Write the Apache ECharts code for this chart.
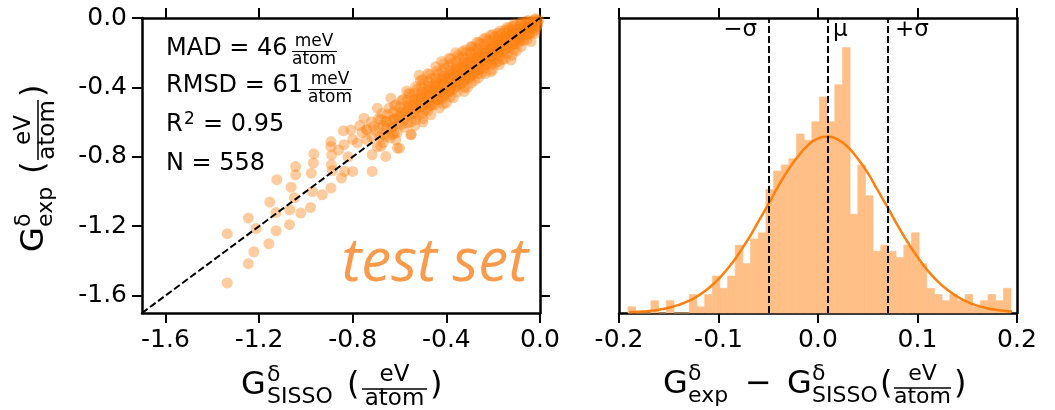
<!DOCTYPE html>
<html><head><meta charset="utf-8">
<script src="https://cdn.jsdelivr.net/npm/echarts@6/dist/echarts.min.js"></script>
<style>html,body{margin:0;padding:0;background:#fff}#c{width:1055px;height:410px}</style>
</head><body><div id="c"></div>
<script>
// ---------- data ----------
const ticksLeft = [-1.6, -1.2, -0.8, -0.4, 0.0];
const ticksRight = [-0.2, -0.1, 0.0, 0.1, 0.2];
const diagLine = [[-1.7, -1.7], [0, 0]];
const scatterPts = [
[-1.336,-1.527],[-1.336,-1.243],[-1.246,-1.153],[-1.246,-1.416],[-1.222,-1.347],[-1.213,-1.213],
[-1.158,-1.301],[-1.154,-1.061],[-1.124,-0.932],[-1.127,-1.226],[-1.128,-1.121],[-1.07,-1.191],
[-1.069,-1.105],[-1.063,-0.975],[-1.049,-1.036],[-1.044,-0.856],[-1.044,-0.904],[-1.022,-1.124],
[-0.98,-1.092],[-0.977,-0.894],[-0.972,-1.0],[-0.968,-0.836],[-0.966,-0.783],[-0.93,-1.019],
[-0.893,-0.98],[-0.893,-0.712],[-0.893,-0.74],[-0.89,-0.79],[-0.891,-0.846],[-0.887,-0.879],
[-0.848,-0.922],[-0.837,-0.73],[-0.835,-0.884],[-0.808,-0.645],[-0.8,-0.7],[-0.8,-0.884],
[-0.86,-0.76],[-0.82,-0.8],[-0.84,-0.65],
[-0.752,-0.577],[-0.74,-0.64],[-0.717,-0.788],[-0.717,-0.884],[-0.695,-0.741],[-0.68,-0.74],
[-0.659,-0.798],[-0.695,-0.52],[-0.637,-0.462],[-0.616,-0.702],[-0.63,-0.67],[-0.76,-0.66],
[-0.77,-0.62],[-0.78,-0.72],[-0.74,-0.7],[-0.7,-0.65],[-0.72,-0.6],[-0.69,-0.58],[-0.67,-0.62],
[-0.665,-0.67],[-0.675,-0.55],[-0.67,-0.72],[-0.655,-0.6],[-0.64,-0.59],[-0.635,-0.64],[-0.645,-0.52],
[-0.64,-0.69],[-0.62,-0.58],[-0.61,-0.56],[-0.605,-0.61],[-0.615,-0.5],[-0.61,-0.66],[-0.6,-0.75],
[-0.609,-0.75],[-0.552,-0.673],
[-0.59,-0.55],[-0.58,-0.53],[-0.575,-0.58],[-0.585,-0.47],[-0.58,-0.63],[-0.57,-0.42],
[-0.56,-0.52],[-0.55,-0.5],[-0.545,-0.55],[-0.555,-0.44],[-0.55,-0.6],[-0.54,-0.47],[-0.55,-0.67],[-0.535,-0.62],
[-0.53,-0.49],[-0.52,-0.47],[-0.515,-0.52],[-0.525,-0.41],[-0.52,-0.56],[-0.51,-0.44],[-0.516,-0.33],[-0.5,-0.6],
[-0.5,-0.46],[-0.49,-0.44],[-0.485,-0.49],[-0.495,-0.38],[-0.49,-0.53],[-0.48,-0.41],[-0.5,-0.58],[-0.51,-0.36],[-0.47,-0.5],
[-0.47,-0.43],[-0.46,-0.41],[-0.455,-0.46],[-0.465,-0.35],[-0.46,-0.5],[-0.45,-0.38],[-0.466,-0.558],[-0.48,-0.32],[-0.44,-0.47],
[-0.44,-0.4],[-0.43,-0.38],[-0.425,-0.43],[-0.435,-0.32],[-0.43,-0.47],[-0.42,-0.35],[-0.43,-0.52],[-0.445,-0.28],[-0.41,-0.45],
[-0.41,-0.37],[-0.4,-0.35],[-0.395,-0.4],[-0.405,-0.29],[-0.4,-0.44],[-0.39,-0.32],[-0.4,-0.49],[-0.42,-0.25],[-0.385,-0.42],
[-0.38,-0.34],[-0.37,-0.32],[-0.365,-0.37],[-0.375,-0.26],[-0.37,-0.41],[-0.36,-0.29],[-0.37,-0.46],[-0.388,-0.232],[-0.355,-0.39],
[-0.35,-0.31],[-0.34,-0.29],[-0.335,-0.34],[-0.345,-0.23],[-0.34,-0.38],[-0.33,-0.26],[-0.324,-0.424],[-0.36,-0.2],[-0.325,-0.36],
[-0.32,-0.28],[-0.31,-0.26],[-0.305,-0.31],[-0.315,-0.2],[-0.31,-0.35],[-0.3,-0.23],[-0.31,-0.4],[-0.331,-0.194],[-0.295,-0.33],
[-0.29,-0.25],[-0.28,-0.23],[-0.275,-0.28],[-0.285,-0.18],[-0.28,-0.32],[-0.27,-0.2],[-0.28,-0.36],[-0.295,-0.165],[-0.265,-0.3],
[-0.26,-0.22],[-0.25,-0.2],[-0.245,-0.25],[-0.255,-0.15],[-0.25,-0.29],[-0.24,-0.18],[-0.25,-0.32],[-0.27,-0.14],[-0.235,-0.27],
[-0.23,-0.2],[-0.22,-0.18],[-0.215,-0.22],[-0.225,-0.13],[-0.22,-0.26],[-0.21,-0.16],[-0.21,-0.309],[-0.24,-0.12],[-0.205,-0.24],
[-0.2,-0.17],[-0.19,-0.15],[-0.185,-0.19],[-0.195,-0.11],[-0.19,-0.22],[-0.18,-0.13],[-0.19,-0.26],[-0.21,-0.1],[-0.175,-0.2],
[-0.174,-0.27],[-0.17,-0.14],[-0.16,-0.12],[-0.155,-0.16],[-0.165,-0.09],[-0.16,-0.2],[-0.15,-0.11],[-0.16,-0.24],[-0.181,-0.088],[-0.145,-0.18],
[-0.14,-0.12],[-0.13,-0.1],[-0.125,-0.14],[-0.135,-0.06],[-0.13,-0.17],[-0.12,-0.09],[-0.124,-0.242],[-0.15,-0.07],[-0.115,-0.15],
[-0.11,-0.09],[-0.1,-0.07],[-0.095,-0.12],[-0.105,-0.04],[-0.1,-0.15],[-0.09,-0.1],[-0.1,-0.19],[-0.12,-0.05],[-0.085,-0.13],
[-0.08,-0.03],[-0.07,-0.04],[-0.065,-0.08],[-0.075,-0.1],[-0.07,-0.06],[-0.07,-0.13],[-0.06,-0.02],[-0.055,-0.1],
[-0.05,-0.03],[-0.04,-0.02],[-0.035,-0.06],[-0.045,-0.09],[-0.04,-0.04],[-0.038,-0.136],[-0.03,-0.08],
[-0.025,-0.03],[-0.02,-0.01],[-0.015,-0.05],[-0.01,-0.02],[-0.01,-0.04],[-0.005,-0.01],[-0.02,-0.07],
[-0.021,-0.005],[-0.028,-0.02],[-0.024,-0.04],[-0.03,-0.06],[-0.022,-0.09],
[-0.051,-0.015],[-0.058,-0.035],[-0.054,-0.055],[-0.06,-0.075],[-0.052,-0.095],[-0.056,-0.125],
[-0.081,-0.025],[-0.088,-0.05],[-0.084,-0.07],[-0.09,-0.09],[-0.082,-0.11],[-0.086,-0.135],[-0.08,-0.165],
[-0.111,-0.035],[-0.118,-0.065],[-0.114,-0.09],[-0.12,-0.11],[-0.112,-0.135],[-0.116,-0.155],[-0.11,-0.185],[-0.119,-0.215],
[-0.141,-0.055],[-0.148,-0.085],[-0.144,-0.11],[-0.15,-0.135],[-0.142,-0.155],[-0.146,-0.18],[-0.14,-0.205],[-0.149,-0.235],
[-0.171,-0.075],[-0.178,-0.11],[-0.174,-0.135],[-0.18,-0.155],[-0.172,-0.175],[-0.176,-0.195],[-0.17,-0.22],[-0.179,-0.25],
[-0.201,-0.095],[-0.208,-0.13],[-0.204,-0.16],[-0.21,-0.18],[-0.202,-0.2],[-0.206,-0.22],[-0.2,-0.245],[-0.209,-0.27],[-0.203,-0.3],
[-0.231,-0.115],[-0.238,-0.155],[-0.234,-0.185],[-0.24,-0.205],[-0.232,-0.225],[-0.236,-0.245],[-0.23,-0.265],[-0.239,-0.295],[-0.233,-0.32],
[-0.261,-0.14],[-0.268,-0.175],[-0.264,-0.205],[-0.27,-0.23],[-0.262,-0.25],[-0.266,-0.27],[-0.26,-0.295],[-0.269,-0.32],[-0.263,-0.345],
[-0.291,-0.165],[-0.298,-0.2],[-0.294,-0.23],[-0.3,-0.255],[-0.292,-0.275],[-0.296,-0.295],[-0.29,-0.32],[-0.299,-0.345],[-0.293,-0.375],
[-0.321,-0.185],[-0.328,-0.225],[-0.324,-0.255],[-0.33,-0.28],[-0.322,-0.305],[-0.326,-0.325],[-0.32,-0.345],[-0.329,-0.37],[-0.323,-0.4],
[-0.351,-0.215],[-0.358,-0.25],[-0.354,-0.28],[-0.36,-0.305],[-0.352,-0.33],[-0.356,-0.35],[-0.35,-0.375],[-0.359,-0.4],[-0.353,-0.425],
[-0.381,-0.235],[-0.388,-0.275],[-0.384,-0.305],[-0.39,-0.335],[-0.382,-0.355],[-0.386,-0.375],[-0.38,-0.4],[-0.389,-0.425],[-0.383,-0.455],
[-0.411,-0.265],[-0.418,-0.305],[-0.414,-0.335],[-0.42,-0.36],[-0.412,-0.385],[-0.416,-0.41],[-0.41,-0.435],[-0.419,-0.465],[-0.413,-0.495],
[-0.441,-0.305],[-0.448,-0.345],[-0.444,-0.37],[-0.45,-0.395],[-0.442,-0.42],[-0.446,-0.445],[-0.44,-0.47],[-0.449,-0.5],
[-0.471,-0.325],[-0.478,-0.365],[-0.474,-0.395],[-0.48,-0.42],[-0.472,-0.445],[-0.476,-0.47],[-0.47,-0.505],[-0.479,-0.535],
[-0.501,-0.355],[-0.508,-0.395],[-0.504,-0.425],[-0.51,-0.455],[-0.502,-0.485],[-0.506,-0.515],[-0.5,-0.545],
[-0.531,-0.395],[-0.538,-0.435],[-0.534,-0.465],[-0.54,-0.495],[-0.532,-0.525],[-0.536,-0.555],[-0.53,-0.585],
[-0.561,-0.435],[-0.568,-0.475],[-0.564,-0.505],[-0.57,-0.535],[-0.562,-0.565],[-0.566,-0.605],
[-0.591,-0.475],[-0.598,-0.515],[-0.594,-0.545],[-0.6,-0.575],[-0.592,-0.615],
[-0.621,-0.505],[-0.628,-0.545],[-0.624,-0.585],[-0.63,-0.625],[-0.622,-0.665],
[-0.651,-0.555],[-0.658,-0.595],[-0.654,-0.635],[-0.66,-0.685],
[-0.681,-0.585],[-0.688,-0.635],[-0.684,-0.685],
[-0.711,-0.625],[-0.718,-0.685],
[-0.741,-0.645]
];
const binStart = -0.191;
const binWidth = 0.0077;
const binCounts = [1,0,0,2,0,2,0,0,3,1, 3,6,4,6,11,8,12,13,20,23, 24,25,29,28,31,35,31,37,43,16, 24,19,10,11,10,9,11,13,8,4, 3,2,3,2,3,1,2,3,2,4];
const fitX = [-0.19,-0.18,-0.17,-0.16,-0.15,-0.14,-0.13,-0.12,-0.11,-0.10,-0.09,-0.08,-0.07,-0.06,-0.05,-0.04,-0.03,-0.02,-0.01,0.00,0.01,0.02,0.03,0.04,0.05,0.06,0.07,0.08,0.09,0.10,0.11,0.12,0.13,0.14,0.15,0.16,0.17,0.18,0.19,0.195];
const fitY = [0.12,0.20,0.33,0.54,0.86,1.31,1.96,2.84,4.00,5.49,7.33,9.52,12.0,14.8,17.6,20.5,23.2,25.4,27.2,28.3,28.6,28.1,26.9,25.0,22.7,19.9,17.1,14.2,11.5,9.06,6.93,5.17,3.75,2.64,1.81,1.20,0.78,0.49,0.30,0.23];
const sigmaLines = [-0.051, 0.009, 0.069];
const histMax = 47.8;

// ---------- helpers ----------
const F = '"DejaVu Sans", sans-serif';
function T(x, base, text, size, align, font) {
  const a = align || 'left';
  return { type: 'text', x: x, y: base - 0.346 * size, z: 50,
    style: { text: text, font: size + 'px ' + (font || F), fill: '#000',
      align: a, textAlign: a, verticalAlign: 'middle', textVerticalAlign: 'middle' } };
}
function L(x1, y1, x2, y2, w) {
  return { type: 'line', z: 50, shape: { x1: x1, y1: y1, x2: x2, y2: y2 }, style: { stroke: '#000', lineWidth: w || 1.3 } };
}
function axis(gridIndex, position, min, max, ticks, showLabel) {
  return {
    type: 'value', gridIndex: gridIndex, position: position, min: min, max: max,
    axisLine: { show: true, onZero: false, lineStyle: { color: '#000', width: 2.5 } },
    axisTick: ticks ? { show: true, length: 10, customValues: ticks, lineStyle: { color: '#000', width: 2 } } : { show: false },
    axisLabel: ticks && showLabel ? { show: true, customValues: ticks, margin: 15,
      formatter: v => (Math.abs(v) < 1e-9 ? 0 : v).toFixed(1), fontFamily: 'DejaVu Sans', fontSize: 25, color: '#000' } : { show: false },
    splitLine: { show: false }
  };
}

const chart = echarts.init(document.getElementById('c'), null, { renderer: 'canvas' });

const graphics = [
  // stats
  T(166, 57, 'MAD = 46', 24),
  T(314, 47, 'meV', 17, 'center'), L(292, 51.5, 337, 51.5, 1.2), T(314, 65, 'atom', 17, 'center'),
  T(166, 94, 'RMSD = 61', 24),
  T(330, 85, 'meV', 17, 'center'), L(308, 89.5, 352, 89.5, 1.2), T(330, 103, 'atom', 17, 'center'),
  T(166, 133, 'R', 24), T(184, 125, '2', 17), T(203, 133, '= 0.95', 24),
  T(166, 172, 'N = 558', 24),
  // test set (baseline ~287)
  { type: 'text', x: 528, y: 287 - 0.388 * 60, z: 50, style: { text: 'test set', font: 'italic 60px "Open Sans", sans-serif',
      fill: '#fa9b4b', align: 'right', textAlign: 'right', verticalAlign: 'middle', textVerticalAlign: 'middle' } },
  // sigma labels
  T(757, 38, '\u2212\u03c3', 23, 'right'), T(833, 38, '\u03bc', 23), T(895, 38, '+\u03c3', 23),
  // left x title
  T(241, 397, 'G', 32), T(267, 383, '\u03b4', 22), T(267, 405, 'SISSO', 22), T(347, 397, '(', 32),
  T(394.5, 383, 'eV', 23, 'center'), L(362, 389, 427, 389, 1.5), T(394.5, 407, 'atom', 23, 'center'), T(430, 397, ')', 32),
  // right x title
  T(663, 396, 'G', 32), T(688, 382, '\u03b4', 22), T(688, 404, 'exp', 22), T(745, 396, '\u2212', 32),
  T(787, 396, 'G', 32), T(812, 382, '\u03b4', 22), T(812, 404, 'SISSO', 22), T(880, 396, '(', 32),
  T(922.5, 382, 'eV', 22, 'center'), L(894, 388, 951, 388, 1.5), T(922.5, 405, 'atom', 22, 'center'), T(954, 396, ')', 32),
  // left y title (rotated)
  { type: 'group', x: 46, y: 252, rotation: Math.PI / 2, children: [
    T(0, 0, 'G', 32), T(25, -14, '\u03b4', 22), T(25, 8, 'exp', 22), T(78, 0, '(', 32),
    T(122, -14, 'eV', 23, 'center'), L(92, -8, 152, -8, 1.5), T(122, 10, 'atom', 23, 'center'), T(155, 0, ')', 32)
  ] }
];

const option = {
  animation: false,
  backgroundColor: '#fff',
  grid: [
    { left: 142, top: 18, width: 398, height: 295 },
    { left: 619, top: 18, width: 398, height: 295 }
  ],
  xAxis: [
    axis(0, 'bottom', -1.7, 0, ticksLeft, true),
    axis(0, 'top', -1.7, 0, ticksLeft, false),
    axis(1, 'bottom', -0.2, 0.2, ticksRight, true),
    axis(1, 'top', -0.2, 0.2, ticksRight, false)
  ],
  yAxis: [
    axis(0, 'left', -1.7, 0, ticksLeft, true),
    axis(0, 'right', -1.7, 0, ticksLeft, false),
    axis(1, 'left', 0, histMax, null, false),
    axis(1, 'right', 0, histMax, null, false)
  ],
  series: [
    { type: 'scatter', xAxisIndex: 0, yAxisIndex: 0, data: scatterPts, symbolSize: 11,
      itemStyle: { color: '#ff7f0e', opacity: 0.4 }, z: 2 },
    { type: 'line', xAxisIndex: 0, yAxisIndex: 0, data: diagLine, symbol: 'none',
      lineStyle: { color: '#000', width: 2, type: [7, 3] }, z: 3 },
    { type: 'custom', xAxisIndex: 2, yAxisIndex: 2,
      data: binCounts.map((c, i) => [binStart + i * binWidth, binStart + (i + 1) * binWidth, c]),
      encode: { x: [0, 1], y: 2 },
      renderItem: function (params, api) {
        const p0 = api.coord([api.value(0), api.value(2)]);
        const p1 = api.coord([api.value(1), 0]);
        return { type: 'rect', shape: { x: p0[0], y: p0[1], width: p1[0] - p0[0], height: p1[1] - p0[1] },
          style: { fill: '#ffbf86', stroke: '#ffbf86', lineWidth: 0.6 } };
      }, z: 2 },
    { type: 'line', xAxisIndex: 2, yAxisIndex: 2, data: fitX.map((x, i) => [x, fitY[i]]),
      smooth: true, symbol: 'none', lineStyle: { color: '#ff7f0e', width: 2.5 }, z: 3,
      markLine: { symbol: 'none', silent: true, label: { show: false },
        lineStyle: { color: '#000', width: 2, type: [7, 3] },
        data: sigmaLines.map(v => ({ xAxis: v })) } }
  ],
  graphic: graphics
};
chart.setOption(option);
</script></body></html>
